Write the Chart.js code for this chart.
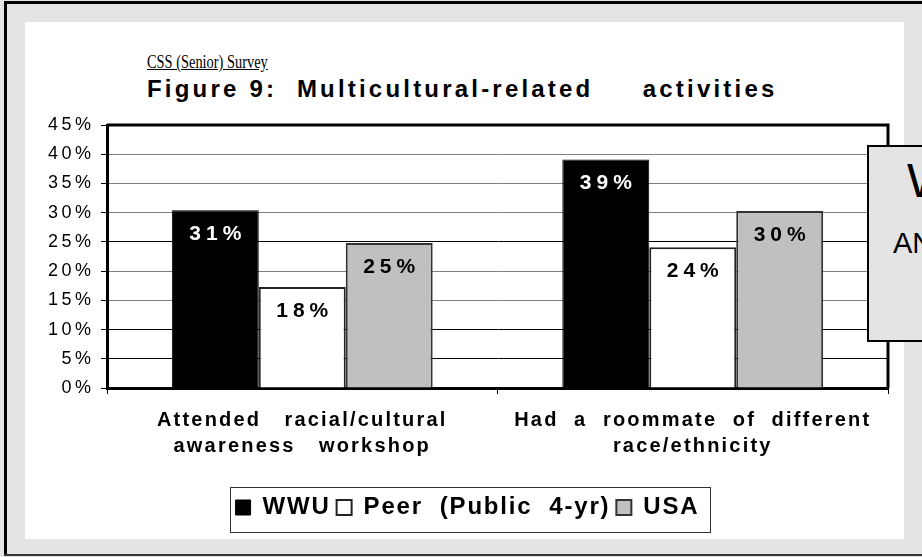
<!DOCTYPE html>
<html><head><meta charset="utf-8">
<script src="https://cdn.jsdelivr.net/npm/chart.js@4.4.0/dist/chart.umd.min.js"></script>
<style>
html,body{margin:0;padding:0;width:922px;height:557px;overflow:hidden;background:#e4e4e4;}
.abs{position:absolute;}
#frameL{left:4px;top:1px;width:3px;height:555px;background:#000;}
#frameT{left:4px;top:1px;width:918px;height:3px;background:#000;}
#frameB{left:4px;top:554px;width:918px;height:2px;background:#333;}
#panel{left:25px;top:22px;width:879px;height:517px;background:#fff;}
#wrap{left:25px;top:22px;width:879px;height:517px;}
#survey{left:147px;top:52px;font-family:"Liberation Serif";font-size:18px;text-decoration:underline;white-space:pre;color:#000;transform:scaleX(0.8);transform-origin:left top;}
#title{left:147px;top:75px;font-family:"Liberation Sans";font-weight:bold;font-size:24px;letter-spacing:3.2px;white-space:pre;color:#000;}
#overlay{left:867px;top:145px;width:200px;height:193px;background:#e4e4e4;border:2px solid #000;overflow:hidden;font-family:"Liberation Sans";color:#000;}
#ov1{left:38px;top:6px;font-size:48px;white-space:pre;}
#ov2{left:24px;top:80px;font-size:29px;white-space:pre;}
</style></head>
<body>
<div id="panel" class="abs"></div>
<div id="frameL" class="abs"></div>
<div id="frameT" class="abs"></div>
<div id="frameB" class="abs"></div>
<div id="survey" class="abs">CSS (Senior) Survey</div>
<div id="title" class="abs">Figure 9:  Multicultural-related     activities</div>
<div id="wrap" class="abs"><canvas id="c" width="879" height="517"></canvas></div>
<div id="overlay" class="abs"><div id="ov1" class="abs">W</div><div id="ov2" class="abs">AN</div></div>
<script>
// ---- data ----
const categories = [["Attended   racial/cultural", "awareness   workshop"], ["Had  a  roommate  of  different", "race/ethnicity"]];
const seriesNames = ["WWU", "Peer  (Public  4-yr)", "USA"];
const wwuValues = [30.4, 39.1];
const peerValues = [17.3, 24.1];
const usaValues = [24.8, 30.3];
const wwuLabels = ["31%", "39%"];
const peerLabels = ["18%", "24%"];
const usaLabels = ["25%", "30%"];
const yTickValues = [0, 5, 10, 15, 20, 25, 30, 35, 40, 45];

// letter spacing by font size (px -> spacing)
const SPACING = {18: 3.5, 20: 2.2, 24: 1.8, 21: 5};
function applySpacing(ctx) {
  const m = /(\d+(?:\.\d+)?)px/.exec(ctx.font);
  const s = m ? (SPACING[Math.round(parseFloat(m[1]))] || 0) : 0;
  ctx.letterSpacing = s + 'px';
}
const P = CanvasRenderingContext2D.prototype;
const oFill = P.fillText, oMeasure = P.measureText;
P.fillText = function(t, x, y, mw) { applySpacing(this); return mw === undefined ? oFill.call(this, t, x, y) : oFill.call(this, t, x, y, mw); };
P.measureText = function(t) { applySpacing(this); return oMeasure.call(this, t); };

const gridColors = {5: '#000', 10: '#000', 15: '#808080', 20: '#808080', 25: '#000', 30: '#808080', 35: '#808080', 40: '#808080', 45: '#000'};

const barLabels = [wwuLabels, peerLabels, usaLabels];
const labelColors = ['#fff', '#000', '#000'];

const dataLabelPlugin = {
  id: 'dataLabels',
  afterDatasetsDraw(chart) {
    const ctx = chart.ctx;
    ctx.save();
    ctx.font = 'bold 21px "Liberation Sans"';
    ctx.textAlign = 'center';
    ctx.textBaseline = 'middle';
    chart.data.datasets.forEach((ds, di) => {
      chart.getDatasetMeta(di).data.forEach((el, i) => {
        ctx.fillStyle = labelColors[di];
        ctx.fillText(barLabels[di][i], el.x + 2.5, el.y + 24);
      });
    });
    ctx.restore();
  }
};

const framePlugin = {
  id: 'frames',
  afterDraw(chart) {
    const ctx = chart.ctx, a = chart.chartArea;
    ctx.save();
    ctx.strokeStyle = '#000';
    ctx.lineWidth = 3;
    ctx.beginPath();
    ctx.moveTo(a.left, a.top); ctx.lineTo(a.right, a.top); ctx.lineTo(a.right, a.bottom);
    ctx.stroke();
    const hb = chart.legend.legendHitBoxes;
    if (hb && hb.length) {
      const l = Math.min(...hb.map(h => h.left)), r = Math.max(...hb.map(h => h.left + h.width));
      const t = Math.min(...hb.map(h => h.top)), b = Math.max(...hb.map(h => h.top + h.height));
      ctx.lineWidth = 1;
      ctx.strokeStyle = '#333';
      ctx.strokeRect(Math.round(l - 6) + 0.5, Math.round(t - 8.5) + 0.5, Math.round(r - l + 16), Math.round(b - t + 21));
    }
    ctx.restore();
  }
};

new Chart(document.getElementById('c'), {
  type: 'bar',
  data: {
    labels: categories,
    datasets: [
      {label: seriesNames[0], data: wwuValues, backgroundColor: '#000', borderColor: '#000', borderWidth: 1},
      {label: seriesNames[1], data: peerValues, backgroundColor: '#fff', borderColor: '#222', borderWidth: 2},
      {label: seriesNames[2], data: usaValues, backgroundColor: '#c0c0c0', borderColor: '#333', borderWidth: 2}
    ]
  },
  options: {
    responsive: false,
    devicePixelRatio: 1,
    animation: false,
    layout: {padding: {left: 22, right: 16, top: 103, bottom: 9.5}},
    datasets: {bar: {categoryPercentage: 0.668, barPercentage: 1.0}},
    plugins: {
      tooltip: {enabled: false},
      title: {display: false},
      legend: {
        position: 'bottom',
        labels: {
          boxWidth: 15, boxHeight: 15, padding: 6, color: '#000',
          font: {family: 'Liberation Sans', weight: 'bold', size: 24}
        }
      }
    },
    scales: {
      x: {
        afterFit(s) { s.height = 101.5; },
        grid: {drawOnChartArea: false, drawTicks: true, tickLength: 6, color: '#000', offset: true},
        border: {display: true, color: '#000', width: 3},
        ticks: {color: '#000', padding: 12.75, maxRotation: 0, autoSkip: false,
          font: {family: 'Liberation Sans', weight: 'bold', size: 20, lineHeight: '26.5px'}}
      },
      y: {
        min: 0, max: 45,
        afterFit(s) { s.width = 60; },
        afterBuildTicks(s) { s.ticks = yTickValues.map(v => ({value: v})); },
        grid: {color: (c) => gridColors[c.tick && c.tick.value] || '#000', lineWidth: 1, drawTicks: true, tickLength: 6, tickColor: '#000'},
        border: {display: true, color: '#000', width: 3},
        ticks: {color: '#000', padding: 6.5, callback: (v) => v + '%',
          font: {family: 'Liberation Sans', size: 18}}
      }
    }
  },
  plugins: [dataLabelPlugin, framePlugin]
});
</script>
</body></html>
